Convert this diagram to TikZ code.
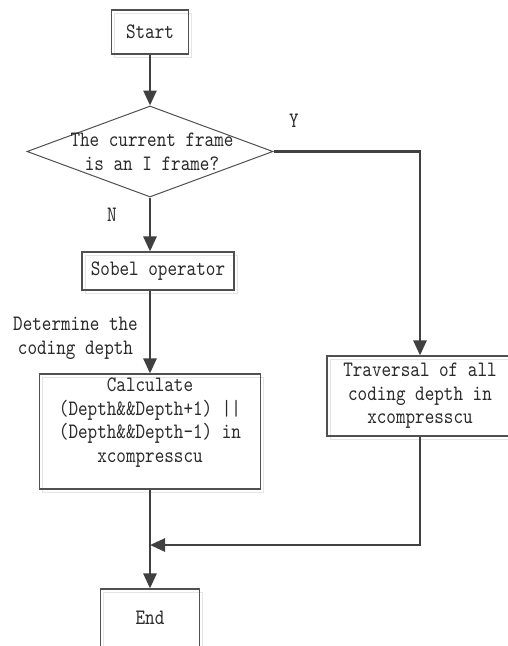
\documentclass[tikz,border=0pt]{standalone}
\usepackage{fontspec}
\newfontfamily\lmm{lmmono10-regular.otf}[FakeStretch=0.83]
\usetikzlibrary{arrows.meta,shapes.geometric,shadows}
\definecolor{lnc}{HTML}{404040}
\definecolor{bdc}{HTML}{505050}
\definecolor{txc}{HTML}{2A2A2A}
\begin{document}
\begin{tikzpicture}[x=1pt,y=-1pt,
  txt/.style={font=\lmm\fontsize{22}{23.6}\selectfont, text=txc, align=center, inner sep=0pt},
  box/.style={txt, draw=bdc, line width=1.1pt, rectangle,
    drop shadow={shadow xshift=3pt, shadow yshift=-3pt, fill=none, draw=black!10, opacity=1, line width=1pt}},
  dia/.style={draw=bdc, line width=1pt, diamond, inner sep=0pt},
  arr/.style={draw=lnc, line width=2.6pt, -{Triangle[length=15pt,width=13pt]}}
]
\clip (0,0) rectangle (508,646);
\fill[white] (0,0) rectangle (508,646);
\node[box, minimum width=77pt, minimum height=44pt] (start) at (150,32) {Start};
\node[dia, minimum width=246pt, minimum height=91pt] (dec) at (150,151.5) {};
\node[txt] (dectext) at (152,152) {The current frame\\is an I frame?};
\node[box, minimum width=152pt, minimum height=38pt] (sobel) at (158,271) {Sobel operator};
\node[txt] (lbl) at (75.5,338.5) {Determine the\\coding depth};
\node[box, inner sep=0pt] (calc) at (150,431.5)
  {\parbox[c][115pt][t]{221pt}{\centering\vspace*{4pt}Calculate\\(Depth\&\&Depth+1) ||\\(Depth\&\&Depth-1) in\\xcompresscu}};
\node[box, minimum width=186pt, minimum height=80pt] (trav) at (420,396) {Traversal of all\\coding depth in\\xcompresscu};
\node[box, minimum width=99pt, minimum height=58pt] (stop) at (150,618) {End};
\node[txt] (ylab) at (294,121) {Y};
\node[txt] (nlab) at (112,215) {N};
\coordinate (merge) at (150,545);
\draw[arr] (start) -- (dec);
\draw[arr] (dec.south) -- (dec.south |- sobel.north);
\draw[arr] (sobel.south -| dec.south) -- (calc.north);
\draw[arr] (dec.east) -| (trav.north);
\draw[arr] (calc.south) -- (stop.north);
\draw[arr] (trav.south) |- (merge);
\end{tikzpicture}
\end{document}
